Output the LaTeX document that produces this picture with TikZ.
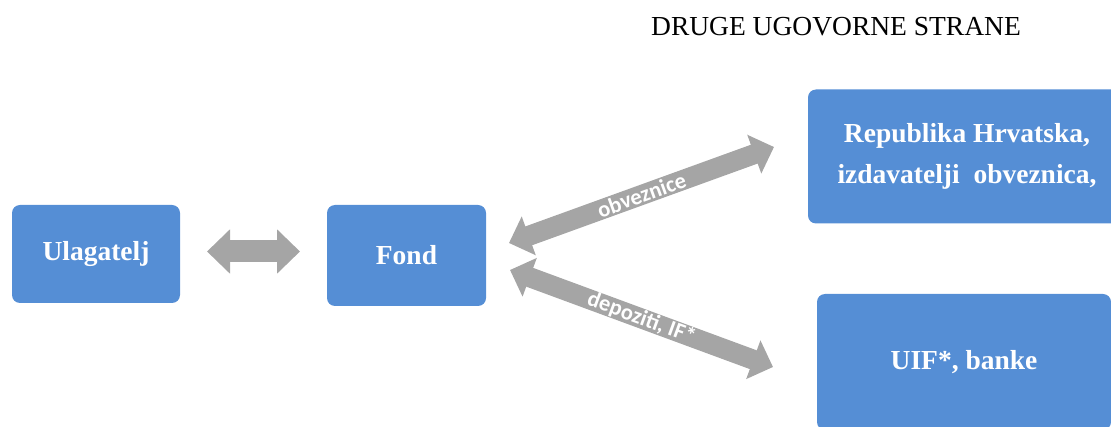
\documentclass[tikz,border=0pt]{standalone}
\usepackage{fontspec}
\setmainfont{Liberation Serif}
\newfontfamily\lblfont{Carlito}
\usetikzlibrary{arrows.meta}
\definecolor{boxblue}{RGB}{85,142,213}
\definecolor{arrgray}{RGB}{165,165,165}
\tikzset{
  entity/.style={fill=boxblue, rounded corners=8pt, text=white, align=center, inner sep=0pt,
    font=\bfseries\fontsize{27.5}{41}\selectfont},
  twoway/.style={draw=arrgray},
  lbl/.style={sloped, text=white, font=\lblfont\bfseries\fontsize{22.5}{24}\selectfont, inner sep=0pt},
}
\begin{document}
\begin{tikzpicture}[x=1pt,y=-1pt]
\useasboundingbox (0,0) rectangle (1111,427);
\clip (0,0) rectangle (1111,427);
\node[font=\fontsize{27.5}{32}\selectfont] (title) at (836,27) {DRUGE UGOVORNE STRANE};
\node[entity, minimum width=168pt, minimum height=98pt] (ul) at (96,254) {Ulagatelj};
\node[entity, minimum width=159pt, minimum height=101pt] (fond) at (406.5,255.5) {Fond};
\node[entity, minimum width=318pt, minimum height=134pt] (rh) at (967,156.5) {Republika Hrvatska,\\izdavatelji\ \ obveznica,};
\node[entity, minimum width=294pt, minimum height=136pt] (uif) at (964,362) {UIF*, banke};
\coordinate (a1) at (207,251.5);
\coordinate (a2) at (300,251.5);
\coordinate (b1) at (509,243);
\coordinate (b2) at (774,147);
\coordinate (c1) at (510,270);
\coordinate (c2) at (773,367);
\draw[twoway, line width=22pt, {Triangle[length=23pt,width=43pt]}-{Triangle[length=23pt,width=43pt]}] (a1) -- (a2);
\draw[twoway, line width=20pt, {Triangle[length=21pt,width=40pt]}-{Triangle[length=21pt,width=40pt]}] (b1) -- node[lbl] {obveznice} (b2);
\draw[twoway, line width=20pt, {Triangle[length=21pt,width=40pt]}-{Triangle[length=21pt,width=40pt]}] (c1) -- node[lbl] {depoziti, IF*} (c2);
\end{tikzpicture}
\end{document}
